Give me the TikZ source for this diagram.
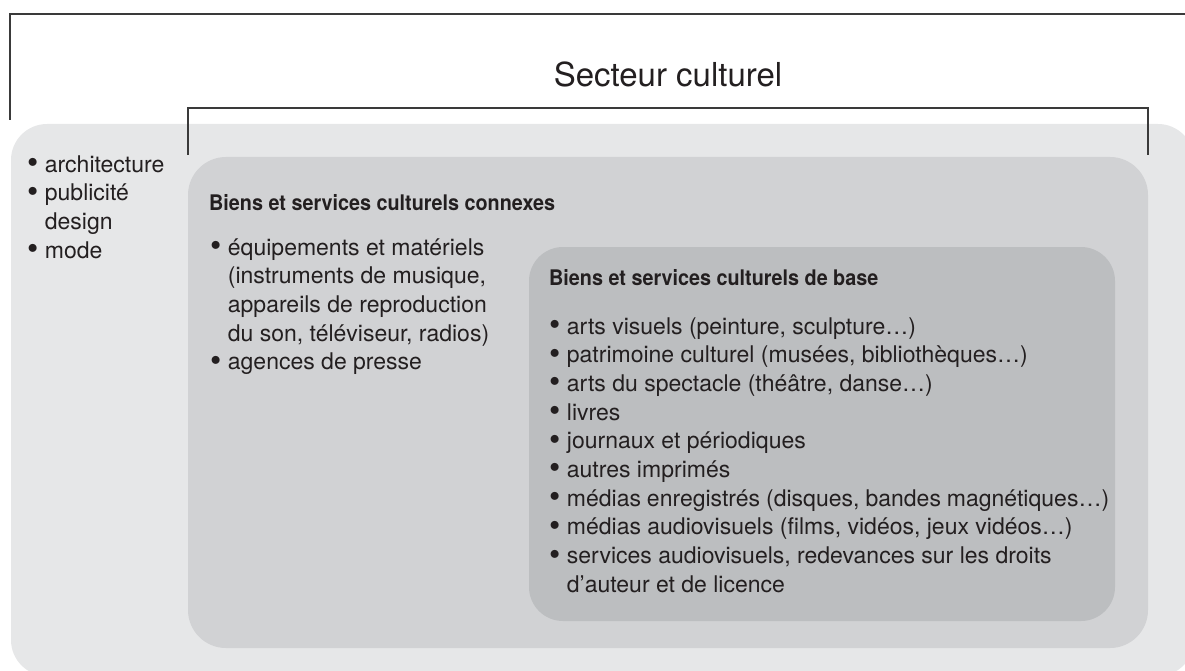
\documentclass[tikz,border=0pt]{standalone}
\usepackage{fontspec}
\usepackage{graphicx}
\setmainfont{TeX Gyre Heros}
\newfontfamily\rubriquefont[FakeStretch=0.92]{TeX Gyre Heros}
\usetikzlibrary{positioning}
\definecolor{encre}{HTML}{231F20}
\definecolor{trait}{HTML}{3A3A3A}
\definecolor{grisclair}{HTML}{E6E7E8}
\definecolor{grismoyen}{HTML}{D1D2D4}
\definecolor{grisfonce}{HTML}{BCBEC0}
\newcommand{\pastille}{\raisebox{-0.12ex}{\scalebox{1.4}{\textbullet}}}
\newcommand{\puce}{\pastille\hspace{0.28em}} % bullet before an item
\newcommand{\suite}{\hphantom{\pastille\hspace{0.28em}}} % indent for a wrapped line
\tikzset{
	x=1pt, y=-1pt, % one unit = one pixel of the sketch, y downwards
	zone/.style={rounded corners=36pt}, % the three nested grey areas
	crochet/.style={draw=trait, line width=1.6pt}, % the two brackets
	liste/.style={anchor=base west, inner sep=0pt, text=encre, font=\fontsize{23}{28.7}\selectfont}, % bulleted lists
	rubrique/.style={anchor=base west, inner sep=0pt, text=encre, font=\rubriquefont\bfseries\fontsize{21.5}{25}\selectfont}, % box headings
}

\begin{document}
\begin{tikzpicture}
		\useasboundingbox (0,0) rectangle (1185,671);
		\clip (0,0) rectangle (1185,671);
		
		% grey areas
		\fill[zone, grisclair] (11,124) rectangle (1194,676);
		\fill[zone, grismoyen, rounded corners=38pt] (188,157) rectangle (1148,648);
		\fill[zone, grisfonce, rounded corners=34pt] (529,247) rectangle (1115,621);
		
		% brackets
		\coordinate (secteurG) at (10,120);
		\coordinate (secteurD) at (1190,14);
		\coordinate (connexesG) at (188,155);
		\coordinate (connexesD) at (1148,155);
		\draw[crochet] (secteurG) |- (secteurD);
		\draw[crochet] (connexesG) -- (188,108) -- (1148,108) -- (connexesD);
		
		\node[anchor=base, inner sep=0pt, text=encre, font=\fontsize{33}{40}\selectfont] (secteur) at (668,87) {Secteur culturel};
		
		\node[liste] (peripherie) at (27,172) {\parbox[t]{160pt}{\puce architecture\\
			\puce publicité\\
			\suite design\\
			\puce mode}};
		
		\node[rubrique] (connexes) at (209,210) {Biens et services culturels connexes};
		\node[liste] (connexesliste) at (210,255) {\parbox[t]{310pt}{\puce équipements et matériels\\
			\suite (instruments de musique,\\
			\suite appareils de reproduction\\
			\suite du son, téléviseur, radios)\\
			\puce agences de presse}};
		
		\node[rubrique] (base) at (549,285) {Biens et services culturels de base};
		\node[liste] (baseliste) at (549,334) {\parbox[t]{560pt}{\puce arts visuels (peinture, sculpture…)\\
			\puce patrimoine culturel (musées, bibliothèques…)\\
			\puce arts du spectacle (théâtre, danse…)\\
			\puce livres\\
			\puce journaux et périodiques\\
			\puce autres imprimés\\
			\puce médias enregistrés (disques, bandes magnétiques…)\\
			\puce médias audiovisuels (films, vidéos, jeux vidéos…)\\
			\puce services audiovisuels, redevances sur les droits\\
			\suite d’auteur et de licence}};
\end{tikzpicture}
\end{document}
